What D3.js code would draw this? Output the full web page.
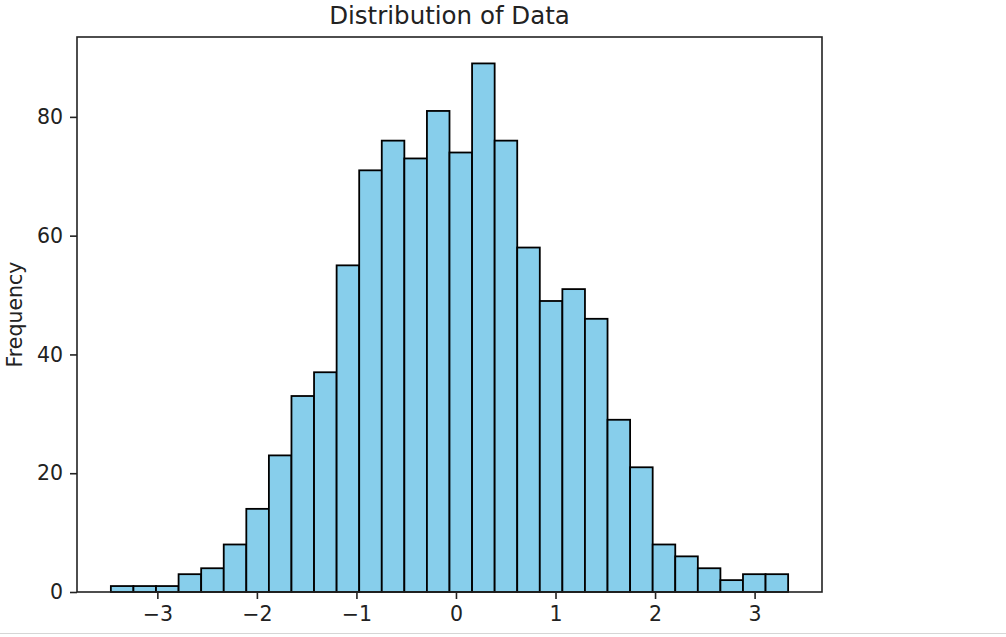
<!DOCTYPE html>
<html>
<head>
<meta charset="utf-8">
<script src="https://cdn.jsdelivr.net/npm/d3@7"></script>
<style>
  body { margin: 0; background: #fff; }
  svg text { font-family: "DejaVu Sans", sans-serif; fill: #222; }
</style>
</head>
<body>
<div id="chart"></div>
<script>
// histogram counts, 30 equal-width bins
var counts = [1, 1, 1, 3, 4, 8, 14, 23, 33, 37,
              55, 71, 76, 73, 81, 74, 89, 76, 58, 49,
              51, 46, 29, 21, 8, 6, 4, 2, 3, 3];
var binMin = -3.467;
var binMax = 3.337;
var xTicks = [-3, -2, -1, 0, 1, 2, 3];
var yTicks = [0, 20, 40, 60, 80];

var svgWidth = 1006;
var svgHeight = 637;

var margin = { top: 37, right: 184, bottom: 45, left: 77 };
var width = svgWidth - margin.left - margin.right;
var height = svgHeight - margin.top - margin.bottom;

var svg = d3.select("#chart")
  .append("svg")
  .attr("width", svgWidth)
  .attr("height", svgHeight);

var chartGroup = svg.append("g")
  .attr("transform", `translate(${margin.left}, ${margin.top})`);

var binWidth = (binMax - binMin) / counts.length;
var bins = counts.map(function(c, i) {
  return { x0: binMin + i * binWidth, x1: binMin + (i + 1) * binWidth, count: c };
});

// matplotlib style 5% padding on x, 5% headroom on y
var pad = (binMax - binMin) * 0.05;
var xScale = d3.scaleLinear()
  .domain([binMin - pad, binMax + pad])
  .range([0, width]);

var yScale = d3.scaleLinear()
  .domain([0, d3.max(counts) * 1.05])
  .range([height, 0]);

chartGroup.selectAll("rect.bar")
  .data(bins)
  .enter()
  .append("rect")
  .attr("class", "bar")
  .attr("x", d => xScale(d.x0))
  .attr("y", d => yScale(d.count))
  .attr("width", d => xScale(d.x1) - xScale(d.x0))
  .attr("height", d => yScale(0) - yScale(d.count))
  .attr("fill", "#87ceeb")
  .attr("stroke", "#000")
  .attr("stroke-width", 1.8);

// axes
var bottomAxis = d3.axisBottom(xScale)
  .tickValues(xTicks)
  .tickSize(7)
  .tickPadding(7)
  .tickFormat(d3.format("d"));
var leftAxis = d3.axisLeft(yScale)
  .tickValues(yTicks)
  .tickSize(7)
  .tickPadding(7)
  .tickFormat(d3.format("d"));

var xAxisG = chartGroup.append("g")
  .attr("transform", `translate(0, ${height})`)
  .call(bottomAxis);
var yAxisG = chartGroup.append("g")
  .call(leftAxis);

[xAxisG, yAxisG].forEach(function(g) {
  g.select(".domain").remove();
  g.selectAll(".tick line").attr("stroke", "#222").attr("stroke-width", 1.6);
  g.selectAll(".tick text")
    .style("font-size", "20.5px")
    .style("font-family", "DejaVu Sans, sans-serif")
    .attr("fill", "#222");
});

// frame
chartGroup.append("rect")
  .attr("width", width)
  .attr("height", height)
  .attr("fill", "none")
  .attr("stroke", "#222")
  .attr("stroke-width", 1.6);

// title and label
svg.append("text")
  .attr("x", margin.left + width / 2)
  .attr("y", 24)
  .attr("text-anchor", "middle")
  .style("font-size", "24.5px")
  .text("Distribution of Data");

svg.append("text")
  .attr("transform", `translate(22, ${margin.top + height / 2}) rotate(-90)`)
  .attr("text-anchor", "middle")
  .style("font-size", "20.5px")
  .text("Frequency");

// thin gray border under the output area
svg.append("line")
  .attr("x1", 0).attr("x2", svgWidth)
  .attr("y1", 633.5).attr("y2", 633.5)
  .attr("stroke", "#d6d6d6")
  .attr("stroke-width", 1);
</script>
</body>
</html>
